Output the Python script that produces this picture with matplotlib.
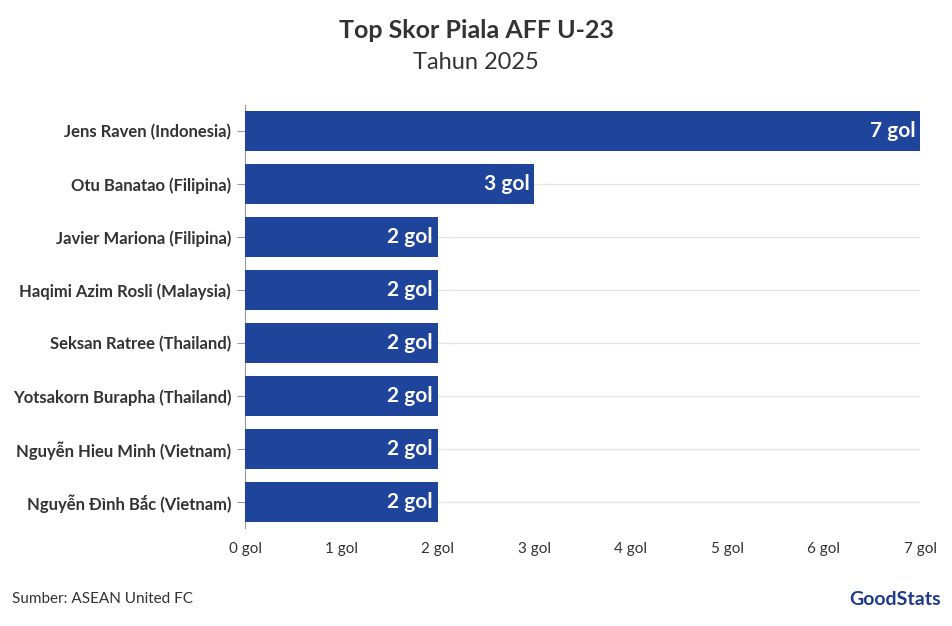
import matplotlib
matplotlib.use("Agg")
import matplotlib.pyplot as plt

players = ["Jens Raven (Indonesia)", "Otu Banatao (Filipina)", "Javier Mariona (Filipina)",
           "Haqimi Azim Rosli (Malaysia)", "Seksan Ratree (Thailand)", "Yotsakorn Burapha (Thailand)",
           "Nguyễn Hieu Minh (Vietnam)", "Nguyễn Đình Bắc (Vietnam)"]
goals = [7, 3, 2, 2, 2, 2, 2, 2]
xticks = [0, 1, 2, 3, 4, 5, 6, 7]
xticklabels = [f"{v} gol" for v in xticks]

plt.rcParams["font.family"] = "Lato"
fig = plt.figure(figsize=(9.52, 6.26), dpi=100)
ax = fig.add_axes([0.2574, 0.156, 0.7090, 0.677])
y = list(range(len(players)))
ax.barh(y, goals, height=0.75, color="#1f449c", zorder=3)
for yi, g in zip(y, goals):
    ax.text(g - 0.05, yi, f"{g} gol", ha="right", va="center", color="white",
            fontsize=15, fontweight="bold", zorder=4)
ax.set_yticks(y)
ax.set_yticklabels(players, fontsize=12, fontweight="bold", color="#333333")
ax.set_ylim(len(players) - 0.5, -0.5)
ax.set_xlim(0, 7)
ax.set_xticks(xticks)
ax.set_xticklabels(xticklabels, fontsize=11, color="#333333")
for yi in y:
    ax.axhline(yi, color="#e6e6e6", lw=1, zorder=1)
for s in ["top", "right", "bottom"]:
    ax.spines[s].set_visible(False)
ax.spines["left"].set_color("#999999")
ax.tick_params(axis="y", length=6, color="#999999", pad=4)
ax.tick_params(axis="x", length=0, pad=10)

fig.text(0.5, 0.952, "Top Skor Piala AFF U-23", ha="center", va="center",
         fontsize=18, fontweight="bold", color="#333333")
fig.text(0.5, 0.9, "Tahun 2025", ha="center", va="center", fontsize=17, color="#333333")
fig.text(0.013, 0.043, "Sumber: ASEAN United FC", ha="left", va="center", fontsize=11, color="#333333")
fig.text(0.988, 0.043, "GoodStats", ha="right", va="center", fontsize=14,
         fontweight="bold", color="#1f3a8a")
fig.savefig("out.png", dpi=100, facecolor="white")
